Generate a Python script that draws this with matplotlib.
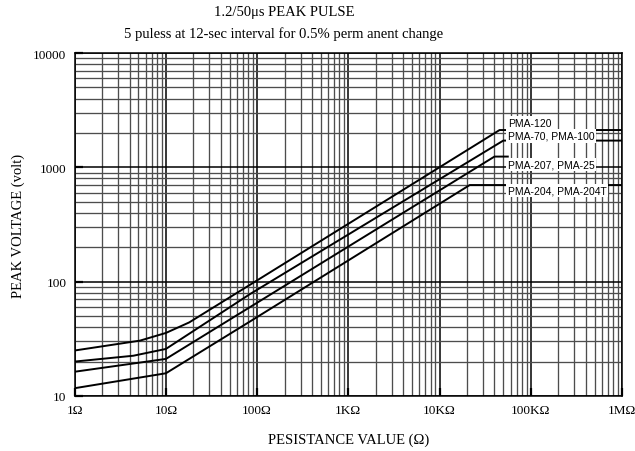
import matplotlib
matplotlib.use("Agg")
from matplotlib import pyplot as plt
from matplotlib.ticker import LogLocator, NullFormatter, FixedLocator

# resistance (ohm) / peak voltage (volt)
r_120 = [1, 5.2, 10, 18, 83, 45500, 1e6]
v_120 = [25, 30.5, 35.6, 44, 93.6, 2120, 2120]

r_70 = [1, 4.4, 10, 83, 50000, 1e6]
v_70 = [20, 22.5, 25.8, 77.6, 1714, 1714]

r_207 = [1, 10, 83, 40000, 56000]
v_207 = [16.3, 21.1, 59.7, 1242, 1242]

r_204 = [1, 10, 83, 21400, 1e6]
v_204 = [11.7, 15.8, 44.7, 700, 700]

x_ticks = [1, 10, 100, 1e3, 1e4, 1e5, 1e6]
x_labels = ["1\u03a9", "10\u03a9", "100\u03a9", "1K\u03a9", "10K\u03a9", "100K\u03a9", "1M\u03a9"]
y_ticks = [10, 100, 1000, 10000]
y_labels = ["10", "100", "1000", "10000"]

labels = ["PMA-120", "PMA-70, PMA-100", "PMA-207, PMA-25", "PMA-204, PMA-204T"]
label_y = [2450, 1880, 1060, 625]

serif = ["Liberation Serif", "DejaVu Serif"]
sans = ["Liberation Sans", "DejaVu Sans"]

fig = plt.figure(figsize=(6.35, 4.52), dpi=100)
ax = fig.add_axes([0.1176, 0.1217, 0.8619, 0.7588])
ax.set_xscale("log")
ax.set_yscale("log")
ax.set_xlim(1, 1e6)
ax.set_ylim(10, 10000)

ax.xaxis.set_minor_locator(LogLocator(base=10, subs=range(2, 10), numticks=20))
ax.yaxis.set_minor_locator(LogLocator(base=10, subs=range(2, 10), numticks=20))
ax.xaxis.set_minor_formatter(NullFormatter())
ax.yaxis.set_minor_formatter(NullFormatter())
ax.xaxis.set_major_locator(FixedLocator(x_ticks))
ax.yaxis.set_major_locator(FixedLocator(y_ticks))
ax.set_xticklabels(x_labels, family=serif, fontsize=9.5)
ax.set_yticklabels(y_labels, family=serif, fontsize=9.5)
ax.tick_params(which="major", direction="in", length=6, width=1.6, pad=6)
ax.tick_params(which="minor", length=0)

ax.grid(which="major", color="black", linewidth=1.1)
ax.grid(which="minor", color="#4d4d4d", linewidth=0.95)
ax.set_axisbelow(True)
for s in ax.spines.values():
    s.set_linewidth(1.1)
    s.set_color("black")

for r, v in [(r_120, v_120), (r_70, v_70), (r_207, v_207), (r_204, v_204)]:
    ax.plot(r, v, color="black", linewidth=1.4, zorder=3)

for txt, y in zip(labels, label_y):
    ax.text(56000, y, txt, family=sans, fontsize=7.5, ha="left", va="center",
            zorder=4, bbox=dict(facecolor="white", edgecolor="none", pad=1.2))

ax.set_xlabel("PESISTANCE VALUE (\u03a9)", family=serif, fontsize=10.5, labelpad=12)
ax.set_ylabel("PEAK VOLTAGE (volt)", family=serif, fontsize=10.5, labelpad=6)

fig.text(0.447, 0.972, "1.2/50\u03bcs PEAK PULSE", family=serif, fontsize=10.5,
         ha="center", va="center")
fig.text(0.447, 0.925, "5 puless at 12-sec interval for 0.5% perm anent change",
         family=serif, fontsize=10.5, ha="center", va="center")

fig.savefig("out.png", dpi=100)
